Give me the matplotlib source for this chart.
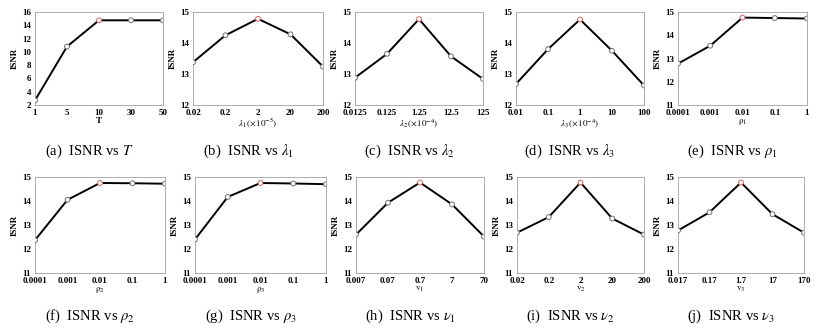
import numpy as np
import matplotlib
matplotlib.use('Agg')
import matplotlib.pyplot as plt

plt.rcParams['font.family'] = ['Liberation Serif', 'DejaVu Serif']
plt.rcParams['mathtext.fontset'] = 'stix'

# ISNR sensitivity values, one list per parameter
t_ticks = ['1', '5', '10', '30', '50']
t_isnr = [2.7, 10.8, 14.75, 14.75, 14.75]

lam1_ticks = ['0.02', '0.2', '2', '20', '200']
lam1_isnr = [13.38, 14.25, 14.78, 14.28, 13.24]

lam2_ticks = ['0.0125', '0.125', '1.25', '12.5', '125']
lam2_isnr = [12.88, 13.65, 14.77, 13.57, 12.84]

lam3_ticks = ['0.01', '0.1', '1', '10', '100']
lam3_isnr = [12.68, 13.8, 14.76, 13.75, 12.63]

rho1_ticks = ['0.0001', '0.001', '0.01', '0.1', '1']
rho1_isnr = [12.78, 13.55, 14.76, 14.74, 14.72]

rho2_ticks = ['0.0001', '0.001', '0.01', '0.1', '1']
rho2_isnr = [12.37, 14.05, 14.75, 14.74, 14.72]

rho3_ticks = ['0.0001', '0.001', '0.01', '0.1', '1']
rho3_isnr = [12.4, 14.17, 14.75, 14.73, 14.7]

nu1_ticks = ['0.007', '0.07', '0.7', '7', '70']
nu1_isnr = [12.6, 13.93, 14.77, 13.86, 12.52]

nu2_ticks = ['0.02', '0.2', '2', '20', '200']
nu2_isnr = [12.68, 13.33, 14.77, 13.27, 12.6]

nu3_ticks = ['0.017', '0.17', '1.7', '17', '170']
nu3_isnr = [12.77, 13.53, 14.77, 13.45, 12.68]

panels = [
    (t_ticks, t_isnr, 'T', (2, 16, 2), '(a)  ISNR vs $T$'),
    (lam1_ticks, lam1_isnr, r'$\lambda_1\,(\times10^{-5})$', (12, 15, 1), r'(b)  ISNR vs $\lambda_1$'),
    (lam2_ticks, lam2_isnr, r'$\lambda_2\,(\times10^{-4})$', (12, 15, 1), r'(c)  ISNR vs $\lambda_2$'),
    (lam3_ticks, lam3_isnr, r'$\lambda_3\,(\times10^{-4})$', (12, 15, 1), r'(d)  ISNR vs $\lambda_3$'),
    (rho1_ticks, rho1_isnr, r'$\mathrm{\rho_1}$', (11, 15, 1), r'(e)  ISNR vs $\rho_1$'),
    (rho2_ticks, rho2_isnr, r'$\mathrm{\rho_2}$', (11, 15, 1), r'(f)  ISNR vs $\rho_2$'),
    (rho3_ticks, rho3_isnr, r'$\mathrm{\rho_3}$', (11, 15, 1), r'(g)  ISNR vs $\rho_3$'),
    (nu1_ticks, nu1_isnr, r'$\mathrm{v_1}$', (11, 15, 1), r'(h)  ISNR vs $\nu_1$'),
    (nu2_ticks, nu2_isnr, r'$\mathrm{v_2}$', (11, 15, 1), r'(i)  ISNR vs $\nu_2$'),
    (nu3_ticks, nu3_isnr, r'$\mathrm{v_3}$', (11, 15, 1), r'(j)  ISNR vs $\nu_3$'),
]

W, H = 817, 329
fig = plt.figure(figsize=(W / 100, H / 100), dpi=100)

# pixel boxes (left, right, top, bottom) of each panel
lefts = [35, 193, 355, 516, 678, 35, 195, 356, 517, 678]
rights = [163, 323, 483, 644, 807, 165, 326, 484, 644, 804]
tops = [12] * 5 + [177] * 5
bottoms = [105] * 5 + [273] * 5
cap_y = [151] * 5 + [316] * 5

for i, (ticks, vals, xl, (y0, y1, ys), cap) in enumerate(panels):
    l, r, t, b = lefts[i], rights[i], tops[i], bottoms[i]
    ax = fig.add_axes([l / W, 1 - b / H, (r - l) / W, (b - t) / H])
    x = np.arange(len(vals))
    ax.plot(x, vals, color='black', lw=1.4, zorder=2)
    peak = int(np.argmax(vals))
    ec = ['#e06060' if k == peak else '#707070' for k in x]
    ax.scatter(x, vals, s=12, facecolors='white', edgecolors=ec, linewidths=0.7, zorder=3)
    ax.set_xlim(0, len(vals) - 1)
    ax.set_ylim(y0, y1)
    ax.set_yticks(np.arange(y0, y1 + 0.01, ys))
    ax.set_xticks(x)
    ax.set_xticklabels(ticks)
    ax.tick_params(length=0, labelsize=6.5, pad=3)
    for lab in ax.get_xticklabels() + ax.get_yticklabels():
        lab.set_fontweight('bold')
    for sp in ax.spines.values():
        sp.set_color('#a0a0a0')
        sp.set_linewidth(0.6)
    ax.set_ylabel('ISNR', fontsize=6.5, fontweight='bold', labelpad=2)
    ax.set_xlabel(xl, fontsize=6.5, fontweight='bold', labelpad=0)
    fig.text(((l + r) / 2 - 10) / W, 1 - cap_y[i] / H, cap, ha='center', va='center', fontsize=10.5)

fig.savefig('out.png', dpi=100)
